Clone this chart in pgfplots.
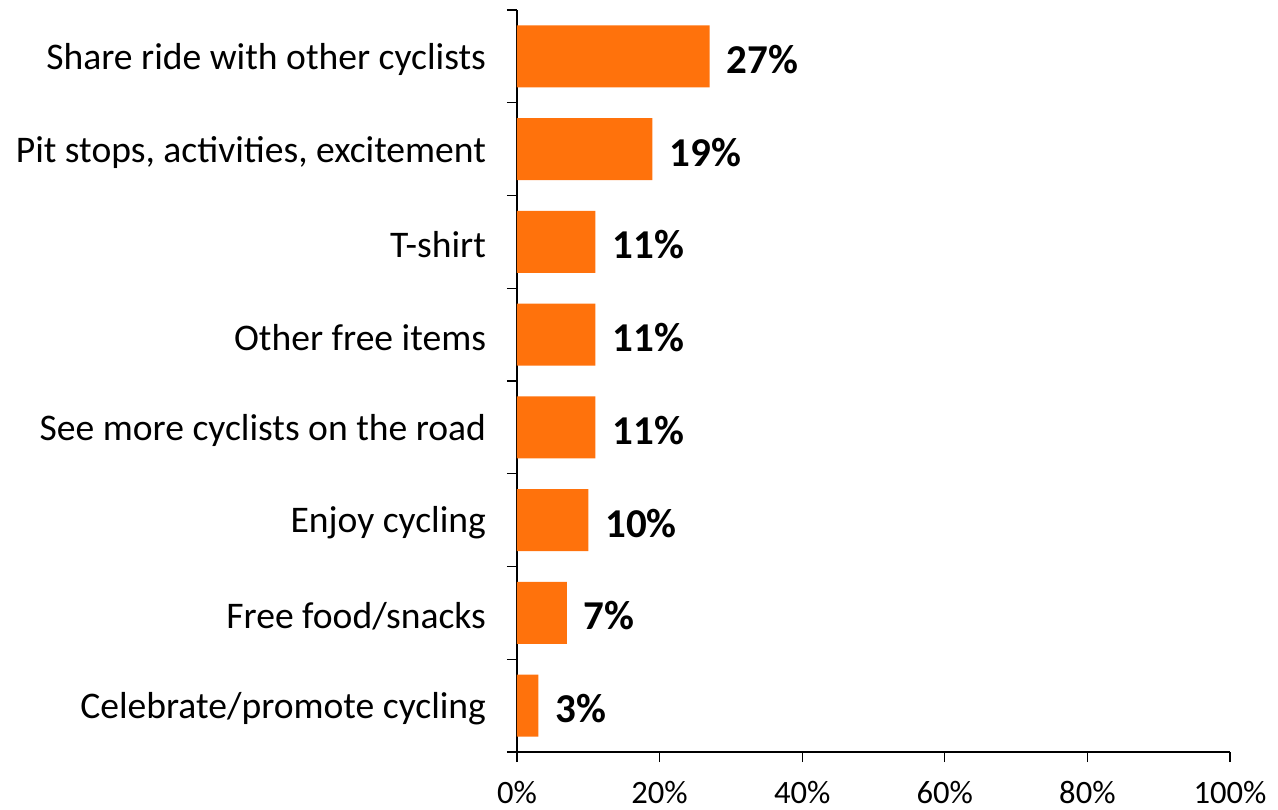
\documentclass[border=0pt]{standalone}
\usepackage{pgfplots}
\pgfplotsset{compat=1.18}
\usepackage{fontspec}
\setmainfont{Carlito}
\definecolor{barorange}{RGB}{255,114,12}
\begin{document}
\begin{tikzpicture}
\begin{axis}[
  scale only axis,
  width=356.5pt, height=371pt,
  xbar, bar width=31pt,
  xmin=0, xmax=100,
  ymin=-0.5, ymax=7.5,
  axis lines*=left,
  axis line style={line width=0.9pt, black},
  xtick={0,20,40,60,80,100},
  xticklabel={\pgfmathprintnumber{\tick}\%},
  xticklabel style={font=\fontsize{16.3}{18}\selectfont, yshift=-11pt},
  ytick={0,1,2,3,4,5,6,7},
  yticklabels={Celebrate/promote cycling,Free food/snacks,Enjoy cycling,See more cyclists on the road,Other free items,T-shirt,{Pit stops, activities, excitement},Share ride with other cyclists},
  yticklabel style={font=\fontsize{18.8}{21}\selectfont, xshift=-12pt, yshift=-1.5pt},
  minor ytick={-0.5,0.5,1.5,2.5,3.5,4.5,5.5,6.5,7.5},
  major tick length=0pt,
  minor tick length=5pt,
  tick align=outside,
  tick style={black, line width=0.6pt},
  extra x ticks={0,20,40,60,80,100},
  extra x tick labels={},
  extra x tick style={major tick length=5pt, tick align=outside},
  /pgf/number format/assume math mode=true,
  point meta=x,
  nodes near coords={\pgfmathprintnumber{\pgfplotspointmeta}\%},
  nodes near coords style={font=\fontsize{20.5}{22}\selectfont\bfseries, anchor=west, xshift=5pt, yshift=-1.5pt, black},
  clip=false,
]
\path (rel axis cs:0,0) coordinate (O);
\addplot[fill=barorange, draw=none] coordinates {
 (3,0) (7,1) (10,2) (11,3) (11,4) (11,5) (19,6) (27,7)
};
\end{axis}
\pgfresetboundingbox
\path[use as bounding box] (O) ++(-258.5pt,-28.5pt) rectangle ++(639pt,404.5pt);
\end{tikzpicture}
\end{document}
